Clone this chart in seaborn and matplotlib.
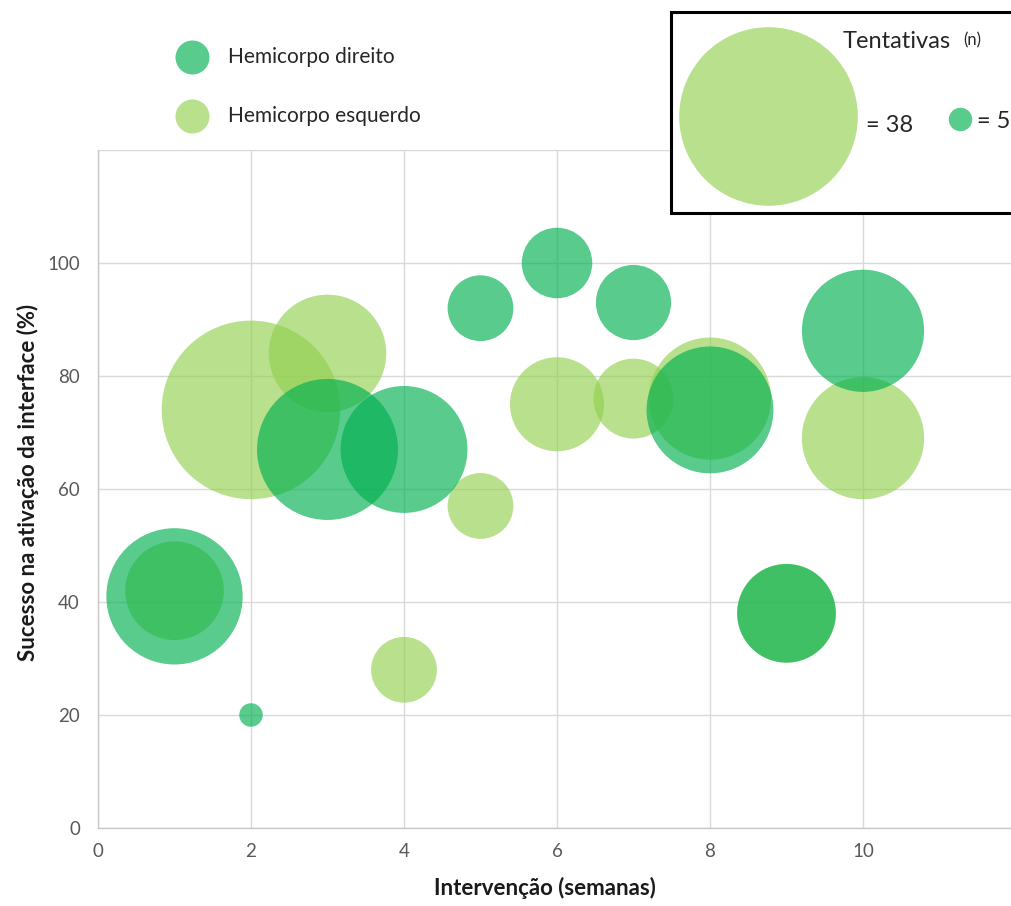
import matplotlib
matplotlib.use("Agg")
import matplotlib.pyplot as plt
from matplotlib.patches import Rectangle
import seaborn as sns
import pandas as pd

# Weekly bubble data: success rate (%) and number of attempts (n) per body side
semanas = [1, 2, 3, 4, 5, 6, 7, 8, 9, 10]
esquerdo_sucesso = [42, 74, 84, 28, 57, 75, 76, 76, 38, 69]
esquerdo_n = [21, 38, 25, 14, 14, 20, 17, 26, 21, 26]
direito_sucesso = [41, 20, 67, 67, 92, 100, 93, 74, 38, 88]
direito_n = [29, 5, 30, 27, 14, 15, 16, 27, 21, 26]

lado_direito = "Hemicorpo direito"
lado_esquerdo = "Hemicorpo esquerdo"
x_ticks = [0, 2, 4, 6, 8, 10, 12]
x_tick_labels = ["0", "2", "4", "6", "8", "10", ""]
y_ticks = [0, 20, 40, 60, 80, 100, 120]
y_tick_labels = ["0", "20", "40", "60", "80", "100", ""]
legenda_n = [38, 5]

cores = {lado_direito: "#00B050", lado_esquerdo: "#92D050"}
ALPHA = 0.65
DPI = 100
PX_POR_N = 2.35  # bubble radius in pixels per attempt


def area_pt2(n):
    """Marker area (pt^2) so that bubble radius grows linearly with n."""
    return (2 * PX_POR_N * n * 72 / DPI) ** 2


# left side first so the right-side bubbles sit on top
df = pd.concat([
    pd.DataFrame({"semana": semanas, "sucesso": esquerdo_sucesso,
                  "n": esquerdo_n, "lado": lado_esquerdo}),
    pd.DataFrame({"semana": semanas, "sucesso": direito_sucesso,
                  "n": direito_n, "lado": lado_direito}),
], ignore_index=True)

sns.set_theme(style="whitegrid")
plt.rcParams["font.family"] = ["Lato", "DejaVu Sans"]

W, H = 1011, 906
fig = plt.figure(figsize=(W / DPI, H / DPI), dpi=DPI)
ax = fig.add_axes([98 / W, 78 / H, 918 / W, 678 / H])

tamanhos = {v: area_pt2(v) for v in sorted(df["n"].unique())}
sns.scatterplot(data=df, x="semana", y="sucesso", hue="lado", palette=cores,
                size="n", sizes=tamanhos, alpha=ALPHA, linewidth=0,
                legend=False, ax=ax, zorder=3)

ax.set_xlim(0, 12)
ax.set_ylim(0, 120)
ax.set_xticks(x_ticks)
ax.set_xticklabels(x_tick_labels)
ax.set_yticks(y_ticks)
ax.set_yticklabels(y_tick_labels)
ax.grid(True, color="#d9d9d9", linewidth=1.0)
ax.set_axisbelow(True)
for lado in ["top", "right"]:
    ax.spines[lado].set_visible(False)
for lado in ["left", "bottom"]:
    ax.spines[lado].set_color("#c8c8c8")
    ax.spines[lado].set_linewidth(1.0)
ax.tick_params(axis="both", length=0, labelsize=13.5, labelcolor="#595959")
ax.tick_params(axis="y", pad=13)
ax.tick_params(axis="x", pad=11)

ax.set_xlabel("Intervenção (semanas)", fontsize=16, fontweight="bold",
              color="#1a1a1a")
ax.xaxis.set_label_coords((545 - 98) / 918, (828 - 888) / 678)
ax.xaxis.label.set_va("center")
ax.set_ylabel("Sucesso na ativação da interface (%)", fontsize=16,
              fontweight="bold", color="#1a1a1a")
ax.yaxis.set_label_coords((28 - 98) / 918, (828 - 482) / 678)
ax.yaxis.label.set_va("center")

# Overlay in pixel coordinates for the legends
ov = fig.add_axes([0, 0, 1, 1], zorder=5)
ov.set_xlim(0, W)
ov.set_ylim(H, 0)
ov.axis("off")
ov.patch.set_alpha(0)

# Series legend (top left)
ov.scatter([192], [57], s=(34 * 72 / DPI) ** 2, color=cores[lado_direito],
           alpha=ALPHA, linewidths=0)
ov.scatter([192], [116], s=(34 * 72 / DPI) ** 2, color=cores[lado_esquerdo],
           alpha=ALPHA, linewidths=0)
ov.text(228, 57, lado_direito, fontsize=15, color="#262626", va="center")
ov.text(228, 116, lado_esquerdo, fontsize=15, color="#262626", va="center")

# Bubble size legend (top right box)
ov.add_patch(Rectangle((671, 12), 400, 201, facecolor="white",
                       edgecolor="black", linewidth=2.2))
ov.scatter([768], [116], s=area_pt2(legenda_n[0]),
           color=cores[lado_esquerdo], alpha=ALPHA, linewidths=0)
ov.scatter([960], [119], s=area_pt2(legenda_n[1]),
           color=cores[lado_direito], alpha=ALPHA, linewidths=0)
ov.text(843, 42, "Tentativas", fontsize=17, color="#262626", va="center")
ov.text(963, 40, "(n)", fontsize=12, color="#262626", va="center")
ov.text(866, 125, f"= {legenda_n[0]}", fontsize=17, color="#262626",
        va="center")
ov.text(977, 121, f"= {legenda_n[1]}", fontsize=17, color="#262626",
        va="center")

fig.savefig("out.png", dpi=DPI)
